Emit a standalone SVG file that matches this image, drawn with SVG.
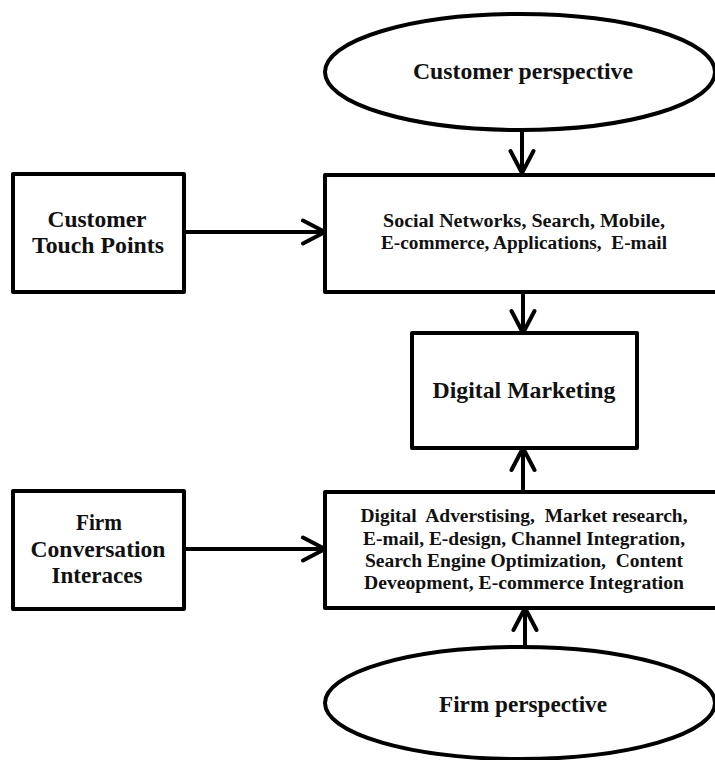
<svg xmlns="http://www.w3.org/2000/svg" width="715" height="760" viewBox="0 0 715 760">
<style>
.shape{fill:#fff;stroke:#000;stroke-width:4;stroke-linejoin:round}
.conn{stroke:#000;stroke-width:4;fill:none}
text{font-family:"Liberation Serif","Times New Roman",serif;font-weight:bold;fill:#111;text-anchor:middle;white-space:pre}
.big{font-size:24px}
.mid{font-size:23px}
.sm{font-size:18px}
</style>
<defs>
<marker id="arr" viewBox="0 0 28 28" markerUnits="userSpaceOnUse" markerWidth="28" markerHeight="28" refX="25" refY="14" orient="auto">
<path d="M3,2.5 L25,14 L3,25.5" fill="none" stroke="#000" stroke-width="4" stroke-linecap="round" stroke-linejoin="round"/>
</marker>
</defs>
<rect width="715" height="760" fill="#fff"/>
<g id="connectors">
<line class="conn" x1="522" y1="130" x2="522" y2="173" marker-end="url(#arr)"/>
<line class="conn" x1="184" y1="232" x2="325" y2="232" marker-end="url(#arr)"/>
<line class="conn" x1="523" y1="292" x2="523" y2="333" marker-end="url(#arr)"/>
<line class="conn" x1="523" y1="492" x2="523" y2="448" marker-end="url(#arr)"/>
<line class="conn" x1="184" y1="549" x2="325" y2="549" marker-end="url(#arr)"/>
<line class="conn" x1="525" y1="647" x2="525" y2="608" marker-end="url(#arr)"/>
</g>
<g id="customer-perspective">
<ellipse class="shape" cx="520" cy="72" rx="195" ry="58"/>
<text class="mid" x="523" y="79" textLength="220" lengthAdjust="spacingAndGlyphs">Customer perspective</text>
</g>
<g id="customer-touch-points">
<rect class="shape" x="13" y="174" width="171" height="118"/>
<text class="big" x="97" y="227" textLength="99" lengthAdjust="spacingAndGlyphs">Customer</text>
<text class="big" x="98" y="253" textLength="132" lengthAdjust="spacingAndGlyphs">Touch Points</text>
</g>
<g id="channels">
<rect class="shape" x="325" y="175" width="400" height="117"/>
<text class="sm" x="524" y="227" textLength="282" lengthAdjust="spacingAndGlyphs">Social Networks, Search, Mobile,</text>
<text class="sm" x="524" y="249" textLength="286" lengthAdjust="spacingAndGlyphs">E-commerce, Applications,  E-mail</text>
</g>
<g id="digital-marketing">
<rect class="shape" x="412" y="333" width="225" height="115"/>
<text class="mid" x="524" y="398" textLength="183" lengthAdjust="spacingAndGlyphs">Digital Marketing</text>
</g>
<g id="firm-interfaces">
<rect class="shape" x="13" y="491" width="171" height="118"/>
<text class="big" x="99" y="530" textLength="46" lengthAdjust="spacingAndGlyphs">Firm</text>
<text class="big" x="98" y="557" textLength="135" lengthAdjust="spacingAndGlyphs">Conversation</text>
<text class="big" x="97" y="583" textLength="91" lengthAdjust="spacingAndGlyphs">Interaces</text>
</g>
<g id="firm-activities">
<rect class="shape" x="325" y="492" width="400" height="116"/>
<text class="sm" x="524" y="522" textLength="327" lengthAdjust="spacingAndGlyphs">Digital  Adverstising,  Market research,</text>
<text class="sm" x="524" y="545" textLength="322" lengthAdjust="spacingAndGlyphs">E-mail, E-design, Channel Integration,</text>
<text class="sm" x="524" y="567" textLength="318" lengthAdjust="spacingAndGlyphs">Search Engine Optimization,  Content</text>
<text class="sm" x="524" y="589" textLength="320" lengthAdjust="spacingAndGlyphs">Deveopment, E-commerce Integration</text>
</g>
<g id="firm-perspective">
<ellipse class="shape" cx="520" cy="703" rx="195" ry="56"/>
<text class="mid" x="523" y="712" textLength="168" lengthAdjust="spacingAndGlyphs">Firm perspective</text>
</g>
</svg>
